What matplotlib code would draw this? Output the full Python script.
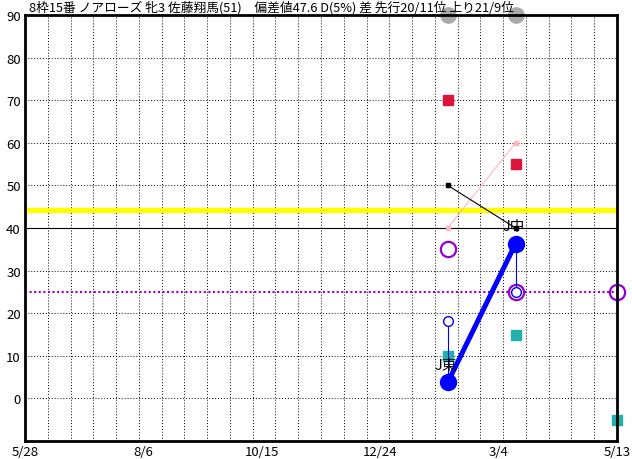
import numpy as np
import pandas as pd
import matplotlib
matplotlib.use("Agg")
import matplotlib.pyplot as plt

plt.rcParams['font.family'] = ['Noto Sans CJK JP', 'DejaVu Sans']

# axis range and labels
start = pd.Timestamp('2022-05-28')
end = pd.Timestamp('2023-05-13')
tick_dates = ['2022-05-28', '2022-08-06', '2022-10-15', '2022-12-24', '2023-03-04', '2023-05-13']
tick_labels = ['5/28', '8/6', '10/15', '12/24', '3/4', '5/13']

# race dates
races = ['2023-02-02', '2023-03-14', '2023-05-13']

title = '8枠15番 ノアローズ 牝3 佐藤翔馬(51)　偏差値47.6 D(5%) 差 先行20/11位 上り21/9位'

gray_vals = [90, 90]
red_vals = [70, 55]
pink_vals = [40, 60]
black_vals = [50, 40]
purple_vals = [35, 25, 25]
blue_small = [18.2, 25]
blue_big = [3.8, 36.3]
teal_vals = [10, 15, -5]
course_labels = ['J東', 'J中']
label_y = [7.8, 40.4]

yellow_level = 44.2
black_level = 40
purple_level = 25


def days(d):
    return (pd.Timestamp(d) - start).days


x = np.array([days(d) for d in races])
total = (end - start).days

fig = plt.figure(figsize=(6.32, 4.60), dpi=100)
ax = fig.add_axes([25 / 632, 1 - 442 / 460, 592 / 632, 426 / 460])
ax.set_xlim(0, total)
ax.set_ylim(-10, 90)

# grid
for gx in np.linspace(0, total, 27)[1:-1]:
    ax.axvline(gx, color='black', lw=0.7, ls=(0, (1, 2)), zorder=1)
for gy in range(0, 90, 10):
    if gy == black_level:
        continue
    ax.axhline(gy, color='black', lw=0.7, ls=(0, (1, 2)), zorder=1)

ax.axhline(yellow_level, color='#FFFF00', lw=3.8, zorder=2)
ax.axhline(black_level, color='black', lw=0.8, zorder=2)
ax.axhline(purple_level, color='#9400D3', lw=1.5, ls=(0, (1, 1.2)), zorder=2)

ax.plot(x[:2], pink_vals, color='#FFB6C1', lw=0.8, marker='s', ms=3.5, zorder=3)
ax.plot(x[:2], black_vals, color='black', lw=0.8, marker='s', ms=3.5, zorder=3)
ax.plot(x[:2], red_vals, ls='none', marker='s', ms=7, color='#DC143C', zorder=3)
ax.plot(x, teal_vals, ls='none', marker='s', ms=6.5, color='#20B2AA', zorder=3, clip_on=False)
ax.plot(x, purple_vals, ls='none', marker='o', ms=11, mfc='none', mec='#9400D3', mew=1.6,
        zorder=4, clip_on=False)

for xi, s, b in zip(x[:2], blue_small, blue_big):
    ax.plot([xi, xi], [s, b], color='#0000FF', lw=0.8, zorder=4)
ax.plot(x[:2], blue_small, ls='none', marker='o', ms=7, mfc='white', mec='#0000FF', mew=1, zorder=5)
ax.plot(x[:2], blue_big, color='#0000FF', lw=3.6, marker='o', ms=11.5, zorder=6)

ax.plot(x[:2], gray_vals, ls='none', marker='o', ms=11, color='#A9A9A9', zorder=7, clip_on=False)

for xi, t, ly in zip(x[:2], course_labels, label_y):
    ax.text(xi - 1, ly, t, ha='center', va='center', fontsize=10.5, zorder=6)

for s in ax.spines.values():
    s.set_linewidth(2)
    s.set_zorder(8)

ax.set_yticks(range(0, 100, 10))
ax.set_xticks([days(d) for d in tick_dates])
ax.set_xticklabels(tick_labels)
ax.tick_params(length=0, labelsize=9.5, pad=3)

fig.text(29 / 632, 1 - 8 / 460, title, ha='left', va='center', fontsize=9.2)

fig.savefig('out.png', dpi=100)
